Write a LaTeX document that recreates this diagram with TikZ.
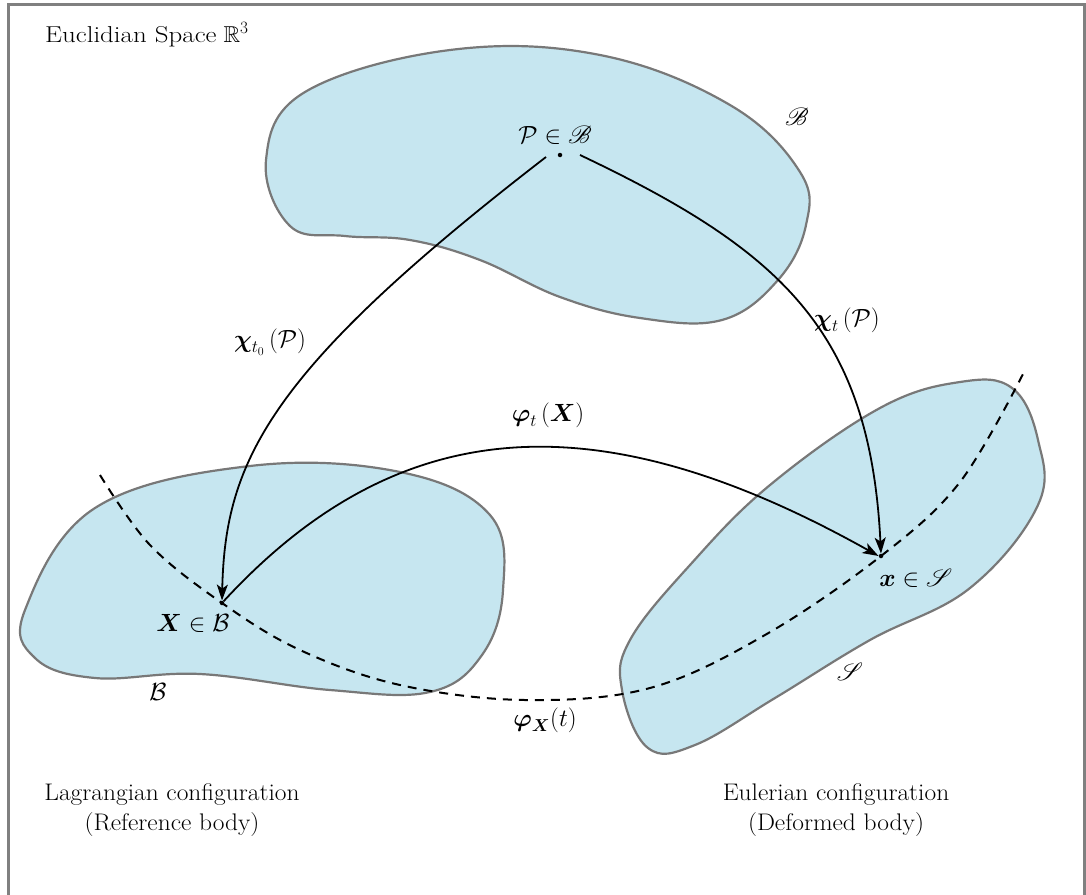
\documentclass[tikz,border=0pt]{standalone}
\usepackage{amsmath,amssymb,mathrsfs}
\usetikzlibrary{arrows.meta}
\definecolor{blobfill}{RGB}{198,230,240}
\definecolor{blobline}{RGB}{120,120,120}
\definecolor{framegray}{RGB}{128,128,128}
\tikzset{
  blob/.style={fill=blobfill,draw=blobline,line width=2.2pt},
  maparrow/.style={line width=1.8pt,-{Stealth[length=16pt,width=11pt,inset=4pt]}},
  pathline/.style={line width=2pt,dash pattern=on 9pt off 7pt},
  lbl/.style={font=\fontsize{23.5}{28}\selectfont,inner sep=1pt},
  txt/.style={font=\fontsize{23}{27}\selectfont,inner sep=1pt},
  captxt/.style={font=\fontsize{24}{28}\selectfont,inner sep=1pt,align=center},
  dotpt/.style={circle,fill=black,inner sep=0pt,minimum size=4.5pt}
}
\begin{document}
\begin{tikzpicture}[x=1pt,y=-1pt]
\useasboundingbox (0,0) rectangle (1086,894);
% frame
\draw[framegray,line width=3pt] (8,900) -- (8,4) -- (1084,4) -- (1084,900);

% blobs
\draw[blob] plot[smooth cycle,tension=0.65] coordinates {
 (266,160) (305,92) (450,50) (600,55) (730,105) (800,172) (806,225)
 (778,280) (722,320) (640,318) (560,297) (480,260) (410,240) (345,236) (290,226)};
\draw[blob] plot[smooth cycle,tension=0.65] coordinates {
 (25,610) (95,508) (250,466) (400,472) (490,515) (503,590) (482,655)
 (430,692) (330,690) (200,674) (95,678) (35,658)};
\draw[blob] plot[smooth cycle,tension=0.65] coordinates {
 (622,690) (648,748) (695,745) (775,698) (870,640) (970,588) (1038,505)
 (1038,440) (1012,388) (960,382) (880,408) (770,485) (690,565) (630,640)};

% nodes
\node[dotpt] (P) at (560,155) {};
\node[dotpt] (X) at (222,603) {};
\node[dotpt] (x) at (881,556) {};
\coordinate (d0) at (100,475);
\coordinate (d1) at (1023,374);

% dashed pathline
\draw[pathline] plot[smooth,tension=0.6] coordinates {
 (d0) (150,545) (X) (300,650) (400,685) (525,700) (650,688) (765,635) (x) (960,482) (d1)};

% arrows
\draw[maparrow] (P) ++(-14,2) .. controls (270,370) and (225,460) .. (X.north);
\draw[maparrow] (P) ++(20,0) .. controls (780,250) and (870,330) .. (x.north);
\draw[maparrow] (X) .. controls (400,410) and (600,400) .. (x.west);

% labels
\node[lbl] (Plab) at (555,135) {$\mathcal{P}\in\mathscr{B}$};
\node[lbl] (Bs) at (797,117) {$\mathscr{B}$};
\node[lbl] (Xlab) at (193,623) {$\boldsymbol{X}\in\mathcal{B}$};
\node[lbl] (Bc) at (158,692) {$\mathcal{B}$};
\node[lbl] (xlab) at (916,578) {$\boldsymbol{x}\in\mathscr{S}$};
\node[lbl] (Ss) at (850,672) {$\mathscr{S}$};
\node[lbl] (chi0) at (270,342) {$\boldsymbol{\chi}_{t_0}\left(\mathcal{P}\right)$};
\node[lbl] (chit) at (847,320) {$\boldsymbol{\chi}_{t}\left(\mathcal{P}\right)$};
\node[lbl] (phit) at (548,415) {$\boldsymbol{\varphi}_{t}\left(\boldsymbol{X}\right)$};
\node[lbl] (phiX) at (545,720) {$\boldsymbol{\varphi}_{\boldsymbol{X}}(t)$};

\node[txt,anchor=west] (title) at (44,35) {\scalebox{1.17}[1]{Euclidian Space}\ $\mathbb{R}^3$};
\node[captxt] (lag) at (172,810) {\scalebox{1.06}[1]{Lagrangian configuration}\\[2pt]\scalebox{1.06}[1]{(Reference body)}};
\node[captxt] (eul) at (836,810) {\scalebox{1.06}[1]{Eulerian configuration}\\[2pt]\scalebox{1.06}[1]{(Deformed body)}};
\end{tikzpicture}
\end{document}
